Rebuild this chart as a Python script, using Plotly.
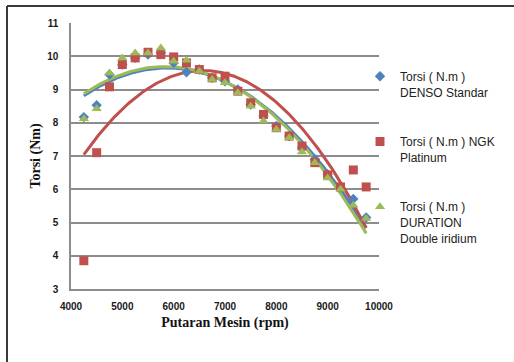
import numpy as np
import plotly.graph_objects as go

rpm = [4250, 4500, 4750, 5000, 5250, 5500, 5750, 6000, 6250, 6500, 6750, 7000,
       7250, 7500, 7750, 8000, 8250, 8500, 8750, 9000, 9250, 9500, 9750]

denso = [8.17, 8.53, 9.45, 9.75, 9.95, 10.05, 10.1, 9.8, 9.52, 9.6, 9.35, 9.25,
         9.0, 8.55, 8.2, 7.9, 7.6, 7.25, 6.9, 6.45, 6.05, 5.71, 5.15]
ngk = [3.85, 7.1, 9.08, 9.75, 9.95, 10.12, 10.05, 9.98, 9.8, 9.6, 9.35, 9.4,
       8.95, 8.6, 8.25, 7.85, 7.6, 7.3, 6.8, 6.43, 6.07, 6.58, 6.07]
duration = [8.12, 8.42, 9.5, 9.95, 10.1, 10.1, 10.25, 9.85, 9.88, 9.55, 9.3, 9.2,
            8.9, 8.5, 8.05, 7.8, 7.55, 7.12, 6.8, 6.34, 6.0, 5.52, 5.12]

names = ["Torsi ( N.m )<br>DENSO Standar",
         "Torsi ( N.m ) NGK<br>Platinum",
         "Torsi ( N.m )<br>DURATION<br>Double iridium"]
colors = ["#4F81BD", "#C0504D", "#9BBB59"]
symbols = ["diamond", "square", "triangle-up"]
sizes = [8, 9, 9]
series = [denso, ngk, duration]

x_ticks = [4000, 5000, 6000, 7000, 8000, 9000, 10000]
y_ticks = [3, 4, 5, 6, 7, 8, 9, 10, 11]

fig = go.Figure()

xs = np.array(rpm, dtype=float)
xfit = np.linspace(xs.min(), xs.max(), 200)
# trendlines (2nd order polynomial, as in the spreadsheet chart)
for ys, c in zip(series, colors):
    coef = np.polyfit(xs, np.array(ys), 2)
    fig.add_trace(go.Scatter(x=xfit, y=np.polyval(coef, xfit), mode="lines",
                             line=dict(color=c, width=3), showlegend=False,
                             hoverinfo="skip"))

for i, (ys, c, s, sz, n) in enumerate(zip(series, colors, symbols, sizes, names)):
    fig.add_trace(go.Scatter(x=rpm, y=ys, mode="markers", name=n,
                             legendgroup=str(i),
                             marker=dict(color=c, symbol=s, size=sz)))

grid = "#8c8c8c"
L, R, T, B = 71, 379, 23, 289
W, H = 514, 362
pw, ph = R - L, B - T
fig.update_layout(
    width=W, height=H,
    margin=dict(l=L, r=W - R, t=T, b=H - B, autoexpand=False),
    paper_bgcolor="white", plot_bgcolor="white",
    showlegend=True,
    legend=dict(x=(360 - L) / pw, y=1 - (62 - T) / ph, xanchor="left", yanchor="top",
                font=dict(family="Liberation Sans", size=12, color="#222"),
                valign="top", tracegroupgap=31, itemwidth=30,
                bgcolor="rgba(0,0,0,0)"),
    xaxis=dict(range=[4000, 10000], tickvals=x_ticks, tickformat="d", showgrid=False,
               showline=True, linecolor=grid, linewidth=1.5, ticks="",
               zeroline=False, ticklabelstandoff=7,
               tickfont=dict(family="Liberation Sans", size=10, color="#1a1a1a", weight="bold"),
               title=dict(text="Putaran Mesin (rpm)", standoff=6,
                          font=dict(family="Liberation Serif", size=14, color="#111", weight="bold"))),
    yaxis=dict(range=[3, 11], tickvals=y_ticks, showgrid=True, gridcolor=grid,
               gridwidth=1.5, showline=True, linecolor=grid, linewidth=1.5,
               ticks="", zeroline=False, ticklabelstandoff=9,
               tickfont=dict(family="Liberation Sans", size=10, color="#1a1a1a", weight="bold"),
               title=dict(text="Torsi (Nm)", standoff=3,
                          font=dict(family="Liberation Serif", size=14, color="#111", weight="bold"))),
)

# outer chart frame (top and left edges visible in the reference)
frame_x0 = (7 - L) / pw
frame_y1 = 1 + (T - 6) / ph
fig.add_shape(type="line", xref="paper", yref="paper",
              x0=frame_x0, x1=(W - L) / pw, y0=frame_y1, y1=frame_y1,
              line=dict(color="#3a3a3a", width=2), layer="above")
fig.add_shape(type="line", xref="paper", yref="paper",
              x0=frame_x0, x1=frame_x0, y0=(B - H) / ph, y1=frame_y1,
              line=dict(color="#3a3a3a", width=2), layer="above")

fig.write_html("out.html", config={"displayModeBar": False},
               post_script="document.body.style.margin='0';")
